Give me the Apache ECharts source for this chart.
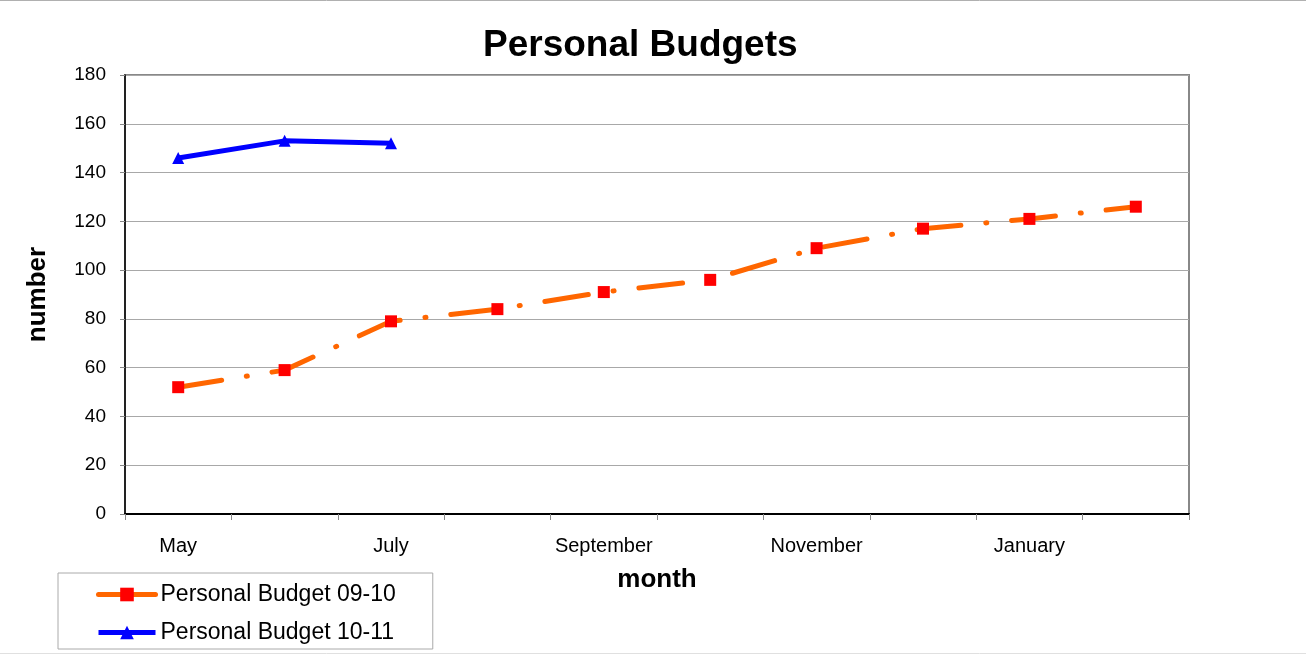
<!DOCTYPE html>
<html>
<head>
<meta charset="utf-8">
<script src="https://cdn.jsdelivr.net/npm/echarts@6/dist/echarts.min.js"></script>
<style>
html,body{margin:0;padding:0;background:#fff;}
#chart{width:1306px;height:655px;}
</style>
</head>
<body>
<div id="chart"></div>
<script>
const months = ['May', 'June', 'July', 'August', 'September', 'October', 'November', 'December', 'January', 'February'];
const budget0910 = [52, 59, 79, 84, 91, 96, 109, 117, 121, 126];
const budget1011 = [146, 153, 152];
const yTicks = { min: 0, max: 180, interval: 20 };

const FONT = '"Liberation Sans", Arial, sans-serif';
const chart = echarts.init(document.getElementById('chart'));
chart.setOption({
  animation: false,
  backgroundColor: '#fff',
  title: {
    text: 'Personal Budgets',
    left: 483, top: 27, padding: 0,
    textStyle: { fontFamily: FONT, fontSize: 37, fontWeight: 'bold', color: '#000' }
  },
  graphic: [
    { type: 'line', shape: { x1: 0, y1: 0.5, x2: 1306, y2: 0.5 }, style: { stroke: '#b0b0b0', lineWidth: 1 } },
    { type: 'line', shape: { x1: 0, y1: 653.5, x2: 1306, y2: 653.5 }, style: { stroke: '#e0e0e0', lineWidth: 1 } }
  ],
  grid: {
    left: 125, right: 117, top: 75, bottom: 141,
    show: true, borderColor: '#888', borderWidth: 2, backgroundColor: '#fff'
  },
  legend: {
    orient: 'vertical',
    left: 58, top: 573,
    padding: [10, 37, 5, 38],
    itemWidth: 57, itemHeight: 17, itemGap: 15,
    borderColor: '#aaa', borderWidth: 1, borderRadius: 0,
    backgroundColor: '#fff',
    textStyle: { fontFamily: FONT, fontSize: 23, color: '#000' },
    data: [
      { name: 'Personal Budget 09-10', lineStyle: { type: 'solid', width: 5 } },
      { name: 'Personal Budget 10-11', lineStyle: { type: 'solid', width: 5 } }
    ]
  },
  xAxis: {
    type: 'category',
    data: months,
    boundaryGap: true,
    name: 'month',
    nameLocation: 'middle',
    nameGap: 53,
    nameTextStyle: { fontFamily: FONT, fontSize: 26, fontWeight: 'bold', color: '#000' },
    axisLine: { lineStyle: { color: '#000', width: 2 } },
    axisTick: { show: true, interval: 0, length: 6, lineStyle: { color: '#888' } },
    axisLabel: { interval: 1, margin: 22, fontFamily: FONT, fontSize: 20, color: '#000' },
    splitLine: { show: false }
  },
  yAxis: {
    type: 'value',
    min: yTicks.min, max: yTicks.max, interval: yTicks.interval,
    name: 'number',
    nameLocation: 'middle',
    nameRotate: 90,
    nameGap: 74,
    nameTextStyle: { fontFamily: FONT, fontSize: 26, fontWeight: 'bold', color: '#000' },
    axisLine: { show: true, lineStyle: { color: '#000', width: 1.5 } },
    axisTick: { show: true, length: 5, lineStyle: { color: '#888' } },
    axisLabel: { margin: 19, fontFamily: FONT, fontSize: 19, color: '#000' },
    splitLine: { show: true, lineStyle: { color: '#a8a8a8', width: 1 } }
  },
  series: [
    {
      name: 'Personal Budget 09-10',
      type: 'line',
      data: budget0910,
      symbol: 'rect',
      symbolSize: 12,
      showAllSymbol: true,
      itemStyle: { color: '#ff0000', borderWidth: 0 },
      lineStyle: { color: '#ff6600', width: 5, type: [44, 25, 1, 25], cap: 'round' },
      z: 3
    },
    {
      name: 'Personal Budget 10-11',
      type: 'line',
      data: budget1011,
      symbol: 'triangle',
      symbolSize: 12,
      showAllSymbol: true,
      itemStyle: { color: '#0000ff', borderWidth: 0 },
      lineStyle: { color: '#0000ff', width: 5 },
      z: 4
    }
  ]
});
</script>
</body>
</html>
